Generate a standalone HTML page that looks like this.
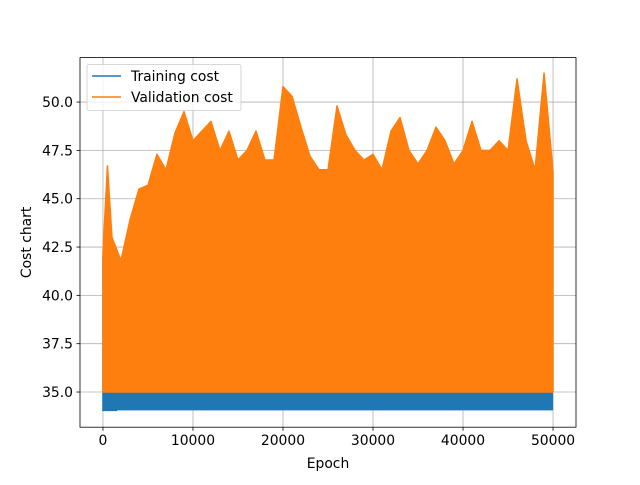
<!DOCTYPE html>
<html><head><meta charset="utf-8"><style>
body{margin:0;background:#fff}
svg{font-family:"DejaVu Sans","Liberation Sans",sans-serif}
</style></head><body>
<svg id="c" width="640" height="480" xmlns="http://www.w3.org/2000/svg"></svg>
<script>
const epochs = [0,500,1000,2000,3000,4000,5000,6000,7000,8000,9000,10000,11000,12000,13000,14000,15000,16000,17000,18000,19000,20000,21000,22000,23000,24000,25000,26000,27000,28000,29000,30000,31000,32000,33000,34000,35000,36000,37000,38000,39000,40000,41000,42000,43000,44000,45000,46000,47000,48000,49000,50000];
const validationPeak = [42.2,46.7,43,41.8,43.9,45.5,45.7,47.3,46.5,48.4,49.5,48,48.5,49,47.5,48.5,47,47.5,48.5,47,47,50.8,50.3,48.7,47.2,46.5,46.5,49.8,48.3,47.5,47,47.3,46.5,48.5,49.2,47.5,46.8,47.5,48.7,48,46.8,47.5,49,47.5,47.5,48,47.5,51.2,48,46.5,51.5,46.4];
const validationLow = 35.0;
const trainingEarlyEpochs = [0,50,100,200,300,500,800,1500];
const trainingEarlyTop = [42,37,35.5,34.8,34.5,34.3,34.2,34.1];
const trainingLow = 34.05;
const trainingHigh = 35.0;
const yTicks = [35.0,37.5,40.0,42.5,45.0,47.5,50.0];
const xTicks = [0,10000,20000,30000,40000,50000];

const L=80,R=576,T=57.6,B=427.2;
const xmin=-2550,xmax=52550,ymin=33.18,ymax=52.3;
const X=v=>L+(v-xmin)/(xmax-xmin)*(R-L);
const Y=v=>B-(v-ymin)/(ymax-ymin)*(B-T);
const svg=document.getElementById('c');
const NS='http://www.w3.org/2000/svg';
function mk(tag,attrs,parent){const e=document.createElementNS(NS,tag);for(const k in attrs)e.setAttribute(k,attrs[k]);(parent||svg).appendChild(e);return e;}
const FS=13.9;

yTicks.forEach(t=>{const g=mk('line',{x1:L,x2:R,y1:Y(t),y2:Y(t),stroke:'#b0b0b0','stroke-width':0.8});

});
xTicks.forEach(t=>{const g=mk('line',{x1:X(t),x2:X(t),y1:T,y2:B,stroke:'#b0b0b0','stroke-width':0.8});

});

// training cost band
const band=mk('rect',{x:X(0),y:Y(trainingHigh),width:X(50000)-X(0),height:Y(trainingLow)-Y(trainingHigh),fill:'#1f77b4'});


let tp=[];
trainingEarlyEpochs.forEach((e,i)=>tp.push(X(e)+','+Y(trainingEarlyTop[i])));
tp.push(X(1500)+','+Y(trainingLow));
tp.push(X(0)+','+Y(trainingLow));
const tr=mk('polygon',{points:tp.join(' '),fill:'#1f77b4',stroke:'#1f77b4','stroke-width':1.5});



// validation cost band
let vp=[X(0)+','+Y(validationLow)];
epochs.forEach((e,i)=>{vp.push(X(e)+','+Y(validationPeak[i]));});
vp.push(X(50000)+','+Y(validationLow));
const va=mk('polygon',{points:vp.join(' '),fill:'#ff7f0e',stroke:'#ff7f0e','stroke-width':1.5,'stroke-linejoin':'round'});



const fr=mk('rect',{x:L,y:T,width:R-L,height:B-T,fill:'none',stroke:'#000','stroke-width':0.8});



yTicks.forEach(t=>{mk('line',{x1:L-3.5,x2:L,y1:Y(t),y2:Y(t),stroke:'#000','stroke-width':0.8});
const tx=mk('text',{x:L-7,y:Y(t)+5,'text-anchor':'end','font-size':FS});tx.textContent=t.toFixed(1);

});
xTicks.forEach(t=>{mk('line',{x1:X(t),x2:X(t),y1:B,y2:B+3.5,stroke:'#000','stroke-width':0.8});
const tx=mk('text',{x:X(t),y:B+18,'text-anchor':'middle','font-size':FS});tx.textContent=String(t);

});

const xl=mk('text',{x:(L+R)/2,y:468,'text-anchor':'middle','font-size':FS});xl.textContent='Epoch';


const yl=mk('text',{x:31,y:(T+B)/2,'text-anchor':'middle','font-size':FS,transform:'rotate(-90 31 '+((T+B)/2)+')'});yl.textContent='Cost chart';



const lg=mk('g',{});


mk('rect',{x:87,y:64.5,width:154,height:46,rx:2,fill:'#fff','fill-opacity':0.8,stroke:'#ccc','stroke-width':0.8},lg);
mk('line',{x1:92,x2:121,y1:76,y2:76,stroke:'#1f77b4','stroke-width':1.5},lg);
const l1=mk('text',{x:131,y:81,'font-size':FS},lg);l1.textContent='Training cost';


mk('line',{x1:92,x2:121,y1:97,y2:97,stroke:'#ff7f0e','stroke-width':1.5},lg);
const l2=mk('text',{x:131,y:102,'font-size':FS},lg);l2.textContent='Validation cost';


</script>
</body></html>
